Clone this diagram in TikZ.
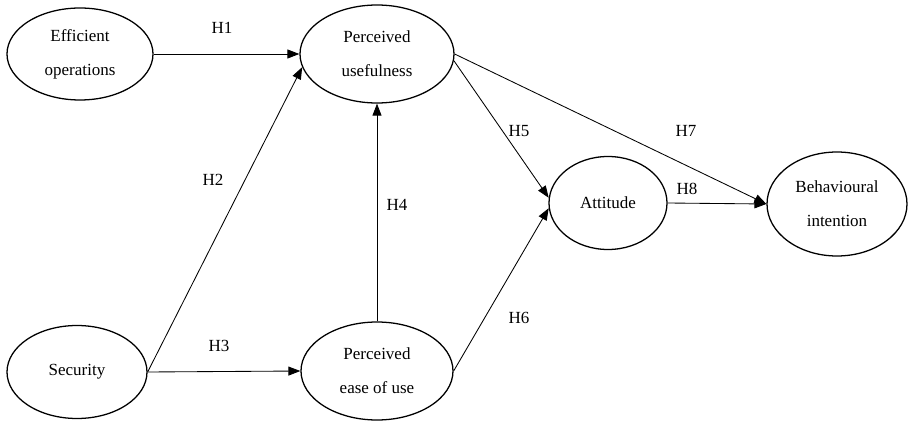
\documentclass[tikz,border=0pt]{standalone}
\usepackage{fontspec}
\setmainfont{Liberation Serif}
\usepackage{tikz}
\usetikzlibrary{shapes.geometric}
\usetikzlibrary{arrows.meta}

\begin{document}
\begin{tikzpicture}[x=1pt,y=-1pt,
			construct/.style={draw, ellipse, line width = 0.45mm, inner sep=0pt, align=center, font=\fontsize{17}{34}\selectfont},
			hyp/.style={font=\fontsize{17}{18}\selectfont},
			link/.style={line width = 0.3mm, -{Triangle[length=12pt,width=9pt]}}
		]
		\useasboundingbox (0,0) rectangle (908,422);

		\node[construct, minimum width=146, minimum height=92] (eo) at (80,54) {Efficient\\operations};
		\node[construct, minimum width=154, minimum height=98] (pu) at (377,54) {Perceived\\usefulness};
		\node[construct, minimum width=118, minimum height=93] (att) at (608,203) {Attitude};
		\node[construct, minimum width=140, minimum height=104] (bi) at (837,204) {Behavioural\\intention};
		\node[construct, minimum width=140, minimum height=93] (sec) at (77,372) {Security};
		\node[construct, minimum width=152, minimum height=98] (peu) at (377,371) {Perceived\\ease of use};

		\draw[link] (eo.east) -- (pu.west);
		\draw[link] (sec.east) -- (pu.190);
		\draw[link] (sec.east) -- (peu.west);
		\draw[link] (peu.north) -- (pu.south);
		\draw[link] (pu.355) -- (att.175);
		\draw[link] (peu.east) -- (att.185);
		\draw[link] (pu.east) -- (bi.west);
		\draw[link] (att.east) -- (bi.west);

		\node[hyp] (h1) at (222,28) {H1};
		\node[hyp] (h2) at (213,180) {H2};
		\node[hyp] (h3) at (219,346) {H3};
		\node[hyp] (h4) at (397,205) {H4};
		\node[hyp] (h5) at (519,131) {H5};
		\node[hyp] (h6) at (519,318) {H6};
		\node[hyp] (h7) at (686,131) {H7};
		\node[hyp] (h8) at (687,189) {H8};
	\end{tikzpicture}
\end{document}
